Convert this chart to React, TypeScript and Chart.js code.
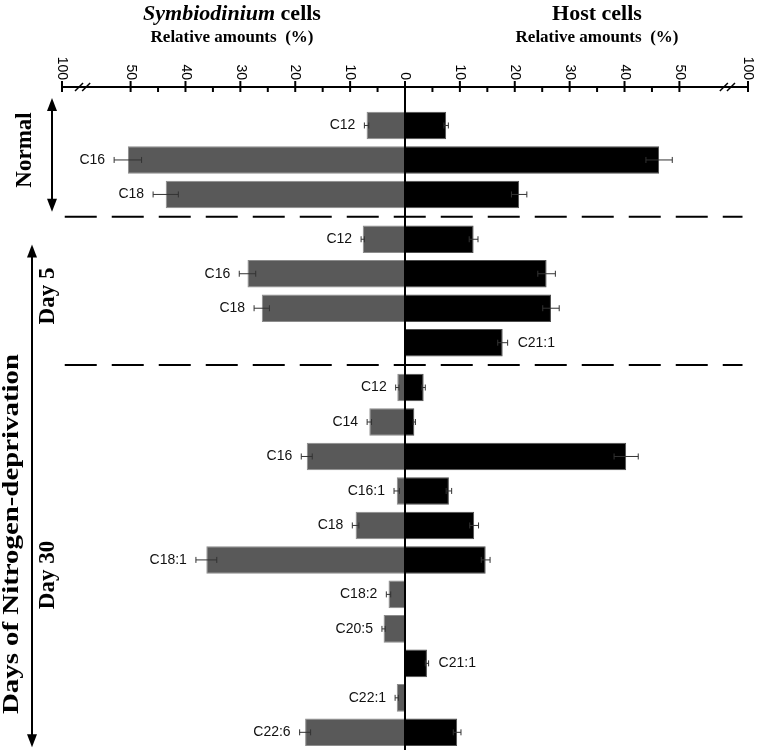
import React, { useEffect, useRef } from 'react';
import { Chart, registerables } from 'chart.js';

Chart.register(...registerables);

// ---------- data ----------
const groupNames = ['Normal', 'Day 5', 'Day 30'];

const normalLabels = ['C12', 'C16', 'C18'];
const normalSym = [7.0, 50.5, 43.6];
const normalSymErr = [0.4, 2.5, 2.3];
const normalHost = [7.5, 46.3, 20.8];
const normalHostErr = [0.4, 2.4, 1.4];

const day5Labels = ['C12', 'C16', 'C18', 'C21:1'];
const day5Sym = [7.7, 28.7, 26.1, null];
const day5SymErr = [0.3, 1.5, 1.4, null];
const day5Host = [12.5, 25.8, 26.6, 17.8];
const day5HostErr = [0.8, 1.6, 1.5, 0.9];

const day30Labels = ['C12', 'C14', 'C16', 'C16:1', 'C18', 'C18:1', 'C18:2', 'C20:5', 'C21:1', 'C22:1', 'C22:6'];
const day30Sym = [1.4, 6.5, 17.9, 1.5, 9.0, 36.2, 3.0, 3.9, null, 1.5, 18.2];
const day30SymErr = [0.3, 0.4, 1.0, 0.5, 0.6, 1.9, 0.4, 0.3, null, 0.3, 1.0];
const day30Host = [3.4, 1.7, 40.3, 8.0, 12.6, 14.7, null, null, 4.0, null, 9.5];
const day30HostErr = [0.3, 0.2, 2.2, 0.5, 0.8, 0.8, null, null, 0.3, null, 0.7];

const majorTicks = [-50, -40, -30, -20, -10, 0, 10, 20, 30, 40, 50];
const minorTicks = [-45, -35, -25, -15, -5, 5, 15, 25, 35, 45];
const edgeTickValue = 62.5; // broken-axis position standing for 100
const edgeTickLabel = '100';
const breakMarks = [58.1, 59.4];

// ---------- layout constants ----------
const GROUP_GAP = 0.3;
const SERIF = '"Liberation Serif", "Times New Roman", serif';
const SANS = '"Liberation Sans", Arial, sans-serif';

type Row = { label: string; pos: number; sym: number | null; symErr: number | null; host: number | null; hostErr: number | null; group: number };

function buildRows(): Row[] {
  const groups = [
    { labels: normalLabels, sym: normalSym, symErr: normalSymErr, host: normalHost, hostErr: normalHostErr },
    { labels: day5Labels, sym: day5Sym, symErr: day5SymErr, host: day5Host, hostErr: day5HostErr },
    { labels: day30Labels, sym: day30Sym, symErr: day30SymErr, host: day30Host, hostErr: day30HostErr },
  ];
  const rows: Row[] = [];
  let pos = 0;
  groups.forEach((g, gi) => {
    g.labels.forEach((lab, k) => {
      rows.push({ label: lab, pos, sym: g.sym[k], symErr: g.symErr[k], host: g.host[k], hostErr: g.hostErr[k], group: gi });
      pos += 1;
    });
    pos += GROUP_GAP;
  });
  return rows;
}

export default function App() {
  const ref = useRef<HTMLCanvasElement | null>(null);

  useEffect(() => {
    const rows = buildRows();
    const symData = rows.filter(r => r.sym != null).map(r => ({ x: -(r.sym as number), y: r.pos, err: r.symErr }));
    const hostData = rows.filter(r => r.host != null).map(r => ({ x: r.host as number, y: r.pos, err: r.hostErr }));

    const groupFirst = groupNames.map((_, gi) => rows.filter(r => r.group === gi)[0].pos);
    const groupLast = groupNames.map((_, gi) => { const g = rows.filter(r => r.group === gi); return g[g.length - 1].pos; });

    const line = (ctx: CanvasRenderingContext2D, x1: number, y1: number, x2: number, y2: number) => {
      ctx.beginPath(); ctx.moveTo(x1, y1); ctx.lineTo(x2, y2); ctx.stroke();
    };
    const arrowHead = (ctx: CanvasRenderingContext2D, x: number, y: number, dir: number) => {
      ctx.beginPath();
      ctx.moveTo(x, y);
      ctx.lineTo(x - 5, y - dir * 13);
      ctx.lineTo(x + 5, y - dir * 13);
      ctx.closePath();
      ctx.fill();
    };
    const vText = (ctx: CanvasRenderingContext2D, text: string, x: number, y: number, font: string, length?: number) => {
      ctx.save();
      ctx.translate(x, y);
      ctx.rotate(-Math.PI / 2);
      ctx.font = font;
      ctx.textAlign = 'center';
      ctx.textBaseline = 'middle';
      if (length) {
        const w = ctx.measureText(text).width;
        ctx.scale(length / w, 1);
      }
      ctx.fillText(text, 0, 0);
      ctx.restore();
    };

    const decor = {
      id: 'decor',
      afterDatasetsDraw(chart: any) {
        const ctx: CanvasRenderingContext2D = chart.ctx;
        const xs = chart.scales.x;
        const ys = chart.scales.y;
        const axisY = 87;
        ctx.save();

        // error bars
        chart.data.datasets.forEach((ds: any, di: number) => {
          const meta = chart.getDatasetMeta(di);
          meta.data.forEach((el: any, i: number) => {
            const d = ds.data[i];
            if (d.err == null) return;
            const xa = xs.getPixelForValue(d.x - d.err);
            const xb = xs.getPixelForValue(d.x + d.err);
            ctx.strokeStyle = '#333';
            ctx.lineWidth = 1;
            line(ctx, xa, el.y, xb, el.y);
            line(ctx, xa, el.y - 3, xa, el.y + 3);
            line(ctx, xb, el.y - 3, xb, el.y + 3);
          });
        });

        // zero line
        const x0 = xs.getPixelForValue(0);
        ctx.strokeStyle = '#000';
        ctx.lineWidth = 2;
        line(ctx, x0, axisY, x0, 750);

        // group separators
        ctx.setLineDash([32, 15]);
        ctx.lineWidth = 2;
        for (let gi = 0; gi < groupNames.length - 1; gi++) {
          const y = ys.getPixelForValue((groupLast[gi] + groupFirst[gi + 1]) / 2);
          line(ctx, xs.getPixelForValue(-62), y, xs.getPixelForValue(61.5), y);
        }
        ctx.setLineDash([]);

        // top axis
        const xl = xs.getPixelForValue(-edgeTickValue);
        const xr = xs.getPixelForValue(edgeTickValue);
        ctx.lineWidth = 2;
        line(ctx, xl, axisY, xr, axisY);
        const allMajor = [-edgeTickValue, ...majorTicks, edgeTickValue];
        allMajor.forEach(v => {
          const px = xs.getPixelForValue(v);
          line(ctx, px, axisY - 6, px, axisY + 5);
        });
        minorTicks.forEach(v => {
          const px = xs.getPixelForValue(v);
          line(ctx, px, axisY, px, axisY + 5);
        });
        // break marks
        ctx.lineWidth = 1.5;
        breakMarks.forEach(b => {
          [-b, b].forEach(v => {
            const px = xs.getPixelForValue(v);
            line(ctx, px - 4, axisY + 4, px + 4, axisY - 4);
          });
        });
        // tick labels (rotated)
        ctx.fillStyle = '#000';
        ctx.font = `14px ${SANS}`;
        allMajor.forEach(v => {
          const px = xs.getPixelForValue(v);
          const lab = Math.abs(v) === edgeTickValue ? edgeTickLabel : String(Math.abs(v));
          ctx.save();
          ctx.translate(px, axisY - 7);
          ctx.rotate(Math.PI / 2);
          ctx.textAlign = 'right';
          ctx.textBaseline = 'middle';
          ctx.fillText(lab, 0, 0);
          ctx.restore();
        });

        // titles
        ctx.textBaseline = 'middle';
        ctx.textAlign = 'left';
        const f1 = `italic bold 22px ${SERIF}`;
        const f2 = `bold 22px ${SERIF}`;
        ctx.font = f1; const w1 = ctx.measureText('Symbiodinium').width;
        ctx.font = f2; const w2 = ctx.measureText(' cells').width;
        const sx = 232 - (w1 + w2) / 2;
        ctx.font = f1; ctx.fillText('Symbiodinium', sx, 14);
        ctx.font = f2; ctx.fillText(' cells', sx + w1, 14);
        ctx.textAlign = 'center';
        ctx.fillText('Host cells', 597, 14);
        ctx.font = `bold 17px ${SERIF}`;
        ctx.fillText('Relative amounts  (%)', 232, 38);
        ctx.fillText('Relative amounts  (%)', 597, 38);

        // fatty-acid labels
        ctx.font = `14px ${SANS}`;
        ctx.fillStyle = '#111';
        rows.forEach(r => {
          const y = ys.getPixelForValue(r.pos);
          if (r.sym != null) {
            ctx.textAlign = 'right';
            ctx.fillText(r.label, xs.getPixelForValue(-(r.sym + (r.symErr || 0))) - 9, y);
          } else if (r.host != null) {
            ctx.textAlign = 'left';
            ctx.fillText(r.label, xs.getPixelForValue(r.host + (r.hostErr || 0)) + 10, y);
          }
        });

        // group arrows
        ctx.fillStyle = '#000';
        ctx.strokeStyle = '#000';
        ctx.lineWidth = 2;
        const a1Top = ys.getPixelForValue(groupFirst[0] - 0.8);
        const a1Bot = ys.getPixelForValue(groupLast[0] + 0.5);
        line(ctx, 52, a1Top + 6, 52, a1Bot - 6);
        arrowHead(ctx, 52, a1Top, -1);
        arrowHead(ctx, 52, a1Bot, 1);
        const a2Top = ys.getPixelForValue(groupFirst[1] + 0.15);
        const a2Bot = ys.getPixelForValue(groupLast[2] + 0.43);
        line(ctx, 32, a2Top + 6, 32, a2Bot - 6);
        arrowHead(ctx, 32, a2Top, -1);
        arrowHead(ctx, 32, a2Bot, 1);

        // group texts
        const gf = `bold 23px ${SERIF}`;
        vText(ctx, groupNames[0], 25, 150, gf);
        vText(ctx, groupNames[1], 48, 296, gf);
        vText(ctx, groupNames[2], 48, 575, gf);
        vText(ctx, 'Days of Nitrogen-deprivation', 12, 534, gf, 360);

        ctx.restore();
      },
    };

    const chart = new Chart(ref.current as HTMLCanvasElement, {
      type: 'bar',
      data: {
        datasets: [
          {
            label: 'Symbiodinium cells',
            data: symData as any,
            backgroundColor: '#595959',
            borderColor: '#8c8c8c',
            borderWidth: 1,
            grouped: false,
            barPercentage: 0.8,
            categoryPercentage: 1,
          },
          {
            label: 'Host cells',
            data: hostData as any,
            backgroundColor: '#000000',
            borderColor: '#4d4d4d',
            borderWidth: 1,
            grouped: false,
            barPercentage: 0.8,
            categoryPercentage: 1,
          },
        ],
      },
      options: {
        indexAxis: 'y',
        animation: false,
        responsive: true,
        maintainAspectRatio: false,
        layout: { padding: { left: 62, right: 11, top: 91, bottom: 1 } },
        scales: {
          x: { type: 'linear', min: -edgeTickValue, max: edgeTickValue, display: false, offset: false },
          y: { type: 'linear', min: -1, max: 18.2, reverse: true, display: false, offset: false },
        },
        plugins: { legend: { display: false }, tooltip: { enabled: false } },
      },
      plugins: [decor],
    });
    return () => chart.destroy();
  }, []);

  return (
    <div style={{ position: 'absolute', left: 0, top: 0, width: 759, height: 754, background: '#fff' }}>
      <canvas ref={ref} />
    </div>
  );
}
